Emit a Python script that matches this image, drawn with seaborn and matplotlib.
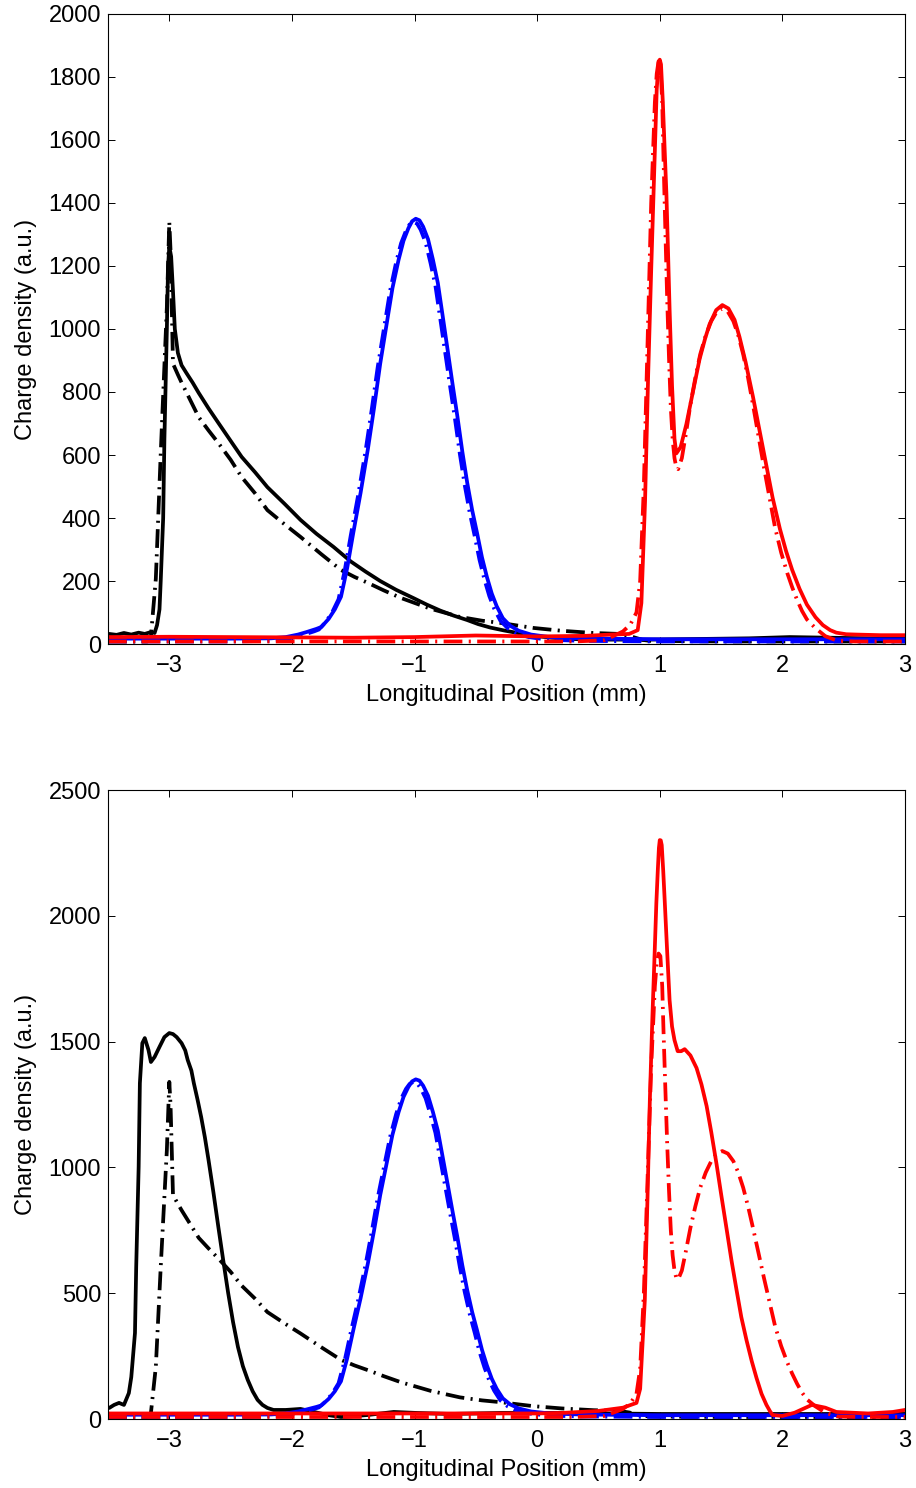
import numpy as np
import pandas as pd
import matplotlib
matplotlib.use("Agg")
import matplotlib.pyplot as plt
import seaborn as sns

# ---------------- data ----------------
# Top panel, measured (solid) black
top_black_x = [-3.49,-3.43,-3.37,-3.31,-3.25,-3.20,-3.15,-3.12,-3.10,-3.08,-3.07,-3.05,-3.04,-3.02,-3.01,-3.00,
               -2.985,-2.97,-2.955,-2.93,-2.90,-2.86,-2.81,-2.76,-2.68,-2.60,-2.50,-2.41,-2.30,-2.20,-2.06,-1.93,
               -1.80,-1.66,-1.52,-1.40,-1.28,-1.15,-1.01,-0.90,-0.79,-0.68,-0.57,-0.48,-0.38,-0.27,-0.16,-0.07,
               0.02,0.12,0.24,0.35,0.51,0.92,1.33,1.73,2.06,2.38,2.71,3.0]
top_black_y = [32,29,35,30,36,32,38,35,60,110,200,400,650,1000,1200,1262,
               1230,1120,1000,924,885,860,830,797,748,702,645,594,545,498,445,394,
               350,308,262,230,200,172,146,125,106,90,76,63,52,43,35,29,
               24,20,17,15,14,14,16,18,22,20,18,17]

# Simulated (dash-dot) black, same in both panels
sim_black_x = [-3.5,-3.3,-3.18,-3.15,-3.11,-3.07,-3.02,-3.00,-2.99,-2.97,-2.93,-2.90,-2.83,-2.76,-2.68,-2.60,
               -2.50,-2.41,-2.30,-2.20,-2.06,-1.93,-1.76,-1.60,-1.49,-1.38,-1.25,-1.11,-0.87,-0.63,-0.45,-0.30,
               -0.15,-0.03,0.20,0.46,0.67,0.75,0.80,0.86,0.92,1.5,2.0,2.5,3.0]
sim_black_y = [8,8,8,24,207,604,1069,1340,1250,890,855,830,775,720,678,638,
               585,530,478,425,380,340,285,235,213,194,170,146,112,86,74,67,
               58,51,42,35,32,26,20,13,10,8,8,8,8]

# Measured blue (same in both panels)
blue_x = [-3.5,-2.5,-2.17,-2.05,-1.95,-1.88,-1.80,-1.76,-1.70,-1.65,-1.60,-1.55,-1.50,-1.44,-1.38,-1.33,
          -1.28,-1.23,-1.18,-1.13,-1.09,-1.05,-1.02,-0.99,-0.96,-0.93,-0.89,-0.85,-0.81,-0.77,-0.73,-0.69,
          -0.65,-0.61,-0.57,-0.53,-0.49,-0.45,-0.41,-0.37,-0.33,-0.28,-0.22,-0.15,-0.05,0.10,0.35,1.0,
          2.0,3.0]
blue_y = [17,17,18,22,30,38,48,54,80,110,150,240,352,480,620,750,
          890,1010,1130,1220,1280,1320,1342,1350,1345,1325,1285,1220,1146,1040,933,825,
          721,610,511,425,352,275,213,160,120,82,58,42,30,22,18,15,
          15,15]

# Simulated blue
sim_blue_x = [-3.5,-2.5,-2.18,-2.07,-1.97,-1.90,-1.82,-1.78,-1.72,-1.67,-1.62,-1.57,-1.52,-1.46,-1.40,-1.35,
              -1.30,-1.25,-1.20,-1.15,-1.11,-1.07,-1.04,-1.01,-0.98,-0.95,-0.91,-0.87,-0.83,-0.79,-0.75,-0.71,
              -0.67,-0.63,-0.59,-0.55,-0.51,-0.47,-0.43,-0.39,-0.35,-0.30,-0.24,-0.17,-0.07,0.08,0.35,1.0,
              2.0,3.0]
sim_blue_y = [8,8,10,14,22,30,40,46,72,102,142,232,345,472,612,742,
              880,1000,1120,1212,1272,1312,1332,1340,1335,1315,1275,1210,1138,1032,925,818,
              714,602,503,417,344,267,205,152,112,74,50,34,22,14,10,8,
              8,8]

# Top panel, measured red
top_red_x = [-3.5,-3.0,-2.5,-2.0,-1.5,-1.0,-0.5,0.0,0.4,0.6,0.75,0.82,0.85,0.88,0.905,0.93,
             0.96,0.975,0.99,1.0,1.01,1.025,1.04,1.054,1.067,1.08,1.10,1.12,1.135,1.17,1.217,1.27,
             1.325,1.37,1.407,1.46,1.51,1.56,1.61,1.65,1.70,1.76,1.81,1.87,1.92,1.98,2.03,2.08,
             2.14,2.20,2.27,2.33,2.39,2.44,2.52,2.6,2.8,3.0]
top_red_y = [22,23,22,21,20,22,27,24,26,30,32,44,130,454,850,1187,
             1568,1760,1845,1855,1840,1720,1568,1430,1250,1064,820,651,605,625,698,800,
             905,970,1016,1060,1076,1065,1029,975,895,785,685,565,465,365,295,235,
             175,125,85,60,44,36,31,30,28,28]

# Simulated red
sim_red_x = [-3.5,-2.0,-0.5,0.3,0.55,0.62,0.70,0.76,0.81,0.84,0.87,0.90,0.93,0.96,0.975,0.99,
             1.005,1.02,1.03,1.045,1.06,1.075,1.09,1.105,1.12,1.135,1.15,1.18,1.21,1.25,1.29,1.33,
             1.375,1.42,1.465,1.51,1.555,1.60,1.64,1.68,1.72,1.76,1.805,1.85,1.895,1.94,1.99,2.04,
             2.08,2.12,2.16,2.20,2.27,2.35,2.45,2.6,3.0]
sim_red_y = [8,8,8,8,12,25,40,62,100,200,500,950,1400,1720,1810,1850,
             1840,1720,1550,1320,1100,910,750,650,590,560,555,590,660,760,845,920,
             980,1025,1055,1065,1055,1025,980,920,845,760,660,560,465,370,290,225,
             180,140,105,78,50,25,10,8,8]

# Bottom panel, measured black
bot_black_x = [-3.49,-3.45,-3.41,-3.37,-3.33,-3.31,-3.28,-3.27,-3.25,-3.24,-3.22,-3.20,-3.17,-3.15,-3.12,-3.08,
               -3.04,-3.00,-2.97,-2.94,-2.90,-2.87,-2.85,-2.82,-2.80,-2.77,-2.74,-2.71,-2.68,-2.64,-2.60,-2.56,
               -2.52,-2.48,-2.44,-2.40,-2.36,-2.32,-2.28,-2.24,-2.20,-2.15,-2.05,-1.93,-1.82,-1.70,-1.60,-1.48,
               -1.38,-1.17,-0.98,-0.71,-0.30,0.19,1.0,2.0,3.0]
bot_black_y = [44,56,64,56,103,167,342,604,1002,1335,1494,1514,1467,1419,1439,1479,
               1518,1534,1530,1518,1494,1465,1427,1385,1335,1270,1200,1120,1029,900,763,630,
               501,385,286,210,155,110,76,56,44,36,36,40,28,15,8,12,
               16,28,24,20,24,24,20,20,20]

# Bottom panel, measured red
bot_red_x = [-3.5,-3.0,-2.0,-1.0,0.0,0.2,0.5,0.7,0.81,0.84,0.878,0.90,0.919,0.94,0.959,0.972,
             0.984,0.993,1.0,1.008,1.016,1.028,1.04,1.06,1.08,1.10,1.12,1.146,1.175,1.203,1.25,1.30,
             1.34,1.382,1.42,1.463,1.50,1.545,1.585,1.626,1.665,1.707,1.75,1.789,1.83,1.87,1.90,1.92,
             2.0,2.1,2.24,2.35,2.44,2.7,2.9,3.0]
bot_red_y = [22,22,22,22,22,24,32,45,64,120,473,880,1268,1600,1864,2050,
             2182,2270,2301,2300,2281,2180,2063,1860,1665,1560,1506,1462,1462,1470,1445,1395,
             1330,1244,1140,1013,895,755,630,513,405,314,230,163,100,56,30,16,
             12,25,56,45,28,22,28,36]

x_ticks = [-3, -2, -1, 0, 1, 2, 3]
top_y_ticks = list(range(0, 2001, 200))
bot_y_ticks = list(range(0, 2501, 500))
x_label = "Longitudinal Position (mm)"
y_label = "Charge density (a.u.)"

# ---------------- style ----------------
sns.set_theme(style="white")
plt.rcParams.update({
    "font.family": ["Liberation Sans", "DejaVu Sans"],
    "font.size": 17,
    "axes.edgecolor": "black",
    "axes.linewidth": 0.8,
    "xtick.direction": "in",
    "ytick.direction": "in",
    "xtick.top": True,
    "ytick.right": True,
    "xtick.bottom": True,
    "ytick.left": True,
    "xtick.major.size": 5,
    "ytick.major.size": 5,
    "xtick.major.width": 0.7,
    "ytick.major.width": 0.7,
    "xtick.major.pad": 8,
    "ytick.major.pad": 5,
    "xtick.color": "black",
    "ytick.color": "black",
    "xtick.labelsize": 17,
    "ytick.labelsize": 17,
    "axes.labelsize": 17,
    "axes.labelcolor": "black",
    "text.color": "black",
})

LW = 2.7
DASHDOT = (0, (5.0, 1.7, 0.55, 1.7))

fig = plt.figure(figsize=(9.16, 14.88), dpi=100)
ax_top = fig.add_axes([0.1179, 0.5672, 0.8701, 0.4234])
ax_bot = fig.add_axes([0.1179, 0.04637, 0.8701, 0.4227])


def draw(ax, x, y, color, ls):
    sns.lineplot(x=x, y=y, ax=ax, color=color, linewidth=LW, linestyle=ls,
                 estimator=None, sort=False, legend=False)


panels = [
    (ax_top, [(top_black_x, top_black_y, "black", "-"),
              (sim_black_x, sim_black_y, "black", DASHDOT),
              (blue_x, blue_y, "blue", "-"),
              (sim_blue_x, sim_blue_y, "blue", DASHDOT),
              (top_red_x, top_red_y, "red", "-"),
              (sim_red_x, sim_red_y, "red", DASHDOT)], 2000, top_y_ticks),
    (ax_bot, [(bot_black_x, bot_black_y, "black", "-"),
              (sim_black_x, sim_black_y, "black", DASHDOT),
              (blue_x, blue_y, "blue", "-"),
              (sim_blue_x, sim_blue_y, "blue", DASHDOT),
              (bot_red_x, bot_red_y, "red", "-"),
              (sim_red_x, sim_red_y, "red", DASHDOT)], 2500, bot_y_ticks),
]

for ax, series, ymax, yticks in panels:
    for x, y, c, ls in series:
        draw(ax, x, y, c, ls)
    ax.set_xlim(-3.5, 3)
    ax.set_ylim(0, ymax)
    ax.set_xticks(x_ticks)
    ax.set_yticks(yticks)
    ax.set_xlabel(x_label, labelpad=5)
    ax.set_ylabel(y_label, labelpad=8)
    for s in ax.spines.values():
        s.set_visible(True)
        s.set_color("black")
        s.set_linewidth(0.8)
    ax.tick_params(which="both", direction="in", top=True, right=True)

fig.savefig("out.png", dpi=100)
